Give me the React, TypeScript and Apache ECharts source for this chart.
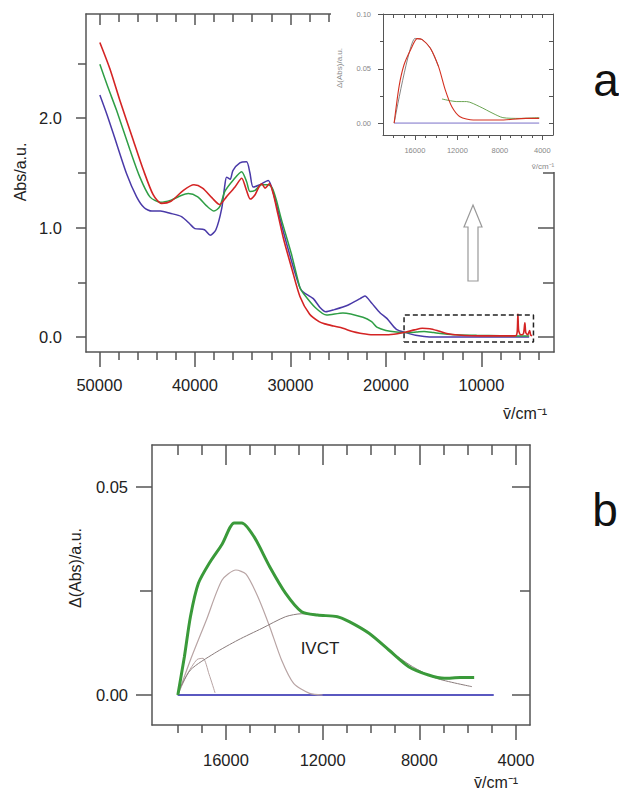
import React, { useEffect, useRef } from "react";
import * as echarts from "echarts";

// ---------- Panel a: absorbance spectra [wavenumber cm^-1, Abs/a.u.] ----------
const redA: [number, number][] = [
  [49950, 2.69], [48900, 2.45], [47850, 2.16], [46460, 1.8], [45410, 1.53], [44370, 1.3],
  [43500, 1.22], [42500, 1.24], [41200, 1.34], [40100, 1.39], [39200, 1.36], [38200, 1.27],
  [37400, 1.21], [36700, 1.28], [35800, 1.37], [35100, 1.45], [34600, 1.34], [34200, 1.26],
  [33700, 1.3], [33300, 1.37], [33000, 1.4], [32650, 1.36], [32200, 1.4], [31800, 1.31],
  [31300, 1.12], [30700, 0.89], [29900, 0.64], [29000, 0.37], [28000, 0.21], [27000, 0.14],
  [26400, 0.12], [25500, 0.1], [24500, 0.08], [23500, 0.05], [22700, 0.035], [21400, 0.02],
  [19900, 0.02], [18800, 0.03], [17900, 0.045], [17000, 0.065], [16200, 0.08], [15400, 0.075],
  [14500, 0.055], [13500, 0.03], [12400, 0.018], [11000, 0.012], [9000, 0.01], [7000, 0.01],
  [6400, 0.012], [6250, 0.05], [6180, 0.21], [6100, 0.06], [5900, 0.02], [5600, 0.03],
  [5450, 0.13], [5350, 0.04], [5150, 0.02], [4950, 0.06], [4850, 0.02], [4700, 0.01],
];
const greenA: [number, number][] = [
  [49950, 2.49], [49100, 2.28], [48200, 2.07], [46800, 1.71], [45760, 1.46], [44710, 1.28],
  [43600, 1.23], [42500, 1.25], [41500, 1.29], [40700, 1.31], [39700, 1.28], [38800, 1.2],
  [38000, 1.15], [37400, 1.19], [36860, 1.33], [36020, 1.43], [35110, 1.51], [34590, 1.42],
  [34240, 1.33], [33700, 1.34], [33020, 1.39], [32320, 1.39], [31900, 1.36], [31500, 1.26],
  [30930, 1.07], [29900, 0.76], [29000, 0.45], [28650, 0.4], [27400, 0.27], [26200, 0.2],
  [24500, 0.22], [22400, 0.18], [21500, 0.14], [20950, 0.09], [20000, 0.06], [18900, 0.045],
  [17900, 0.04], [16800, 0.045], [16000, 0.05], [15000, 0.04], [14000, 0.03], [12600, 0.02],
  [10500, 0.015], [8000, 0.012], [6500, 0.01], [5000, 0.01],
];
const blueA: [number, number][] = [
  [49950, 2.21], [49200, 2.03], [48550, 1.86], [47150, 1.49], [46100, 1.28], [45300, 1.18],
  [44500, 1.15], [43600, 1.15], [42600, 1.13], [41400, 1.1], [40500, 1.03], [40000, 0.99],
  [39000, 0.98], [38400, 0.93], [37800, 0.98], [37200, 1.17], [36860, 1.39], [36680, 1.46],
  [36300, 1.44], [36020, 1.52], [35290, 1.59], [34590, 1.6], [34240, 1.5], [33900, 1.37],
  [33190, 1.39], [32320, 1.43], [31970, 1.37], [31400, 1.19], [30700, 0.95], [29700, 0.64],
  [29000, 0.45], [28650, 0.41], [27600, 0.35], [26900, 0.27], [26300, 0.23], [25400, 0.25],
  [24000, 0.29], [22700, 0.35], [22200, 0.375], [21500, 0.31], [20600, 0.22], [19900, 0.17],
  [18900, 0.07], [17900, 0.04], [16900, 0.015], [16000, 0.005], [15000, 0], [12000, 0],
  [8000, 0], [5000, 0],
];
const boxA: [number, number][] = [
  [18100, -0.046], [4550, -0.046], [4550, 0.2], [18100, 0.2], [18100, -0.046],
];

// ---------- Inset: difference spectra [cm^-1, Δ(Abs)] ----------
const redInset: [number, number][] = [
  [17950, 0], [17490, 0.0336], [17020, 0.0537], [16400, 0.0676], [15780, 0.0778],
  [15310, 0.0769], [14540, 0.069], [13770, 0.052], [13140, 0.0306], [12520, 0.0151],
  [11750, 0.0059], [10510, 0.0028], [8030, 0.0028], [5540, 0.0043], [4300, 0.0043],
];
const grayInset: [number, number][] = [
  [17950, 0], [16000, 0.078], [15310, 0.0769], [14540, 0.069], [13770, 0.052],
];
const greenInset: [number, number][] = [
  [13450, 0.0222], [12060, 0.0198], [11130, 0.0198], [9890, 0.0151], [8650, 0.0089],
  [7720, 0.005], [6170, 0.0043], [4300, 0.005],
];
const blueInset: [number, number][] = [[17950, 0], [4300, 0]];

// ---------- Panel b: deconvolution [cm^-1, Δ(Abs)] ----------
const greenB: [number, number][] = [
  [17990, 0], [17720, 0.0092], [17470, 0.0188], [17140, 0.0268], [16650, 0.032],
  [16160, 0.0362], [15660, 0.0413], [15340, 0.0413], [14840, 0.038], [14190, 0.0308],
  [13530, 0.0244], [12870, 0.02], [12210, 0.0192], [11390, 0.0188], [10900, 0.0176],
  [10080, 0.0148], [9260, 0.0108], [8440, 0.0068], [7620, 0.0048], [6960, 0.004],
  [6310, 0.0042], [5730, 0.0042],
];
const comp1B: [number, number][] = [
  [17990, 0], [17600, 0.005], [17200, 0.0085], [16950, 0.0088], [16700, 0.005], [16450, 0.0005],
];
const comp2B: [number, number][] = [
  [17990, 0], [17470, 0.0084], [16810, 0.018], [16160, 0.0276], [15590, 0.03], [15170, 0.029],
  [14680, 0.0236], [14190, 0.0164], [13700, 0.0084], [13200, 0.0028], [12540, 0.0004], [12000, 0],
];
const ivctB: [number, number][] = [
  [17990, 0.0005], [17470, 0.006], [16480, 0.01], [15500, 0.0132], [14510, 0.016],
  [13530, 0.0188], [12870, 0.0195], [12050, 0.0192], [11230, 0.0184], [10250, 0.0156],
  [9260, 0.0108], [8280, 0.0068], [7290, 0.004], [5820, 0.002],
];
const baseB: [number, number][] = [[18000, 0], [4920, 0]];

// ---------- Tick values ----------
const aXMajor = [50000, 40000, 30000, 20000, 10000];
const aXMinor = [48000, 46000, 44000, 42000, 38000, 36000, 34000, 32000, 28000, 26000, 24000,
  22000, 18000, 16000, 14000, 12000, 8000, 6000, 4000];
const aYMajor = [0, 1, 2];
const aYMinor = [0.5, 1.5, 2.5];
const inXMajor = [16000, 12000, 8000, 4000];
const inXMinor = [18000, 17000, 15000, 14000, 13000, 11000, 10000, 9000, 7000, 6000, 5000];
const inYMajor = [0, 0.05, 0.1];
const inYMinor = [0.025, 0.075];
const bXMajor = [16000, 12000, 8000, 4000];
const bXMinor = [18000, 17000, 15000, 14000, 13000, 11000, 10000, 9000, 7000, 6000, 5000];
const bYMajor = [0, 0.05];
const bYMinor = [0.025];

const FONT = "'Liberation Sans', Arial, Helvetica, sans-serif";
const AXIS = "#555";

type AxOpts = {
  line?: boolean; labels?: number[]; fmt?: (v: number) => string; margin?: number;
  fontSize?: number; color?: string; z?: number; lw?: number;
};
function axis(grid: number, position: string, min: number, max: number, inverse: boolean,
  ticks: number[], len: number, inside: boolean, o: AxOpts = {}) {
  const lw = o.lw ?? 1.5;
  return {
    type: "value", gridIndex: grid, position, min, max, inverse, z: o.z ?? 0,
    axisLine: { show: !!o.line, onZero: false, lineStyle: { color: AXIS, width: lw } },
    axisTick: { show: true, inside, length: len, customValues: ticks, lineStyle: { color: AXIS, width: lw } },
    axisLabel: o.labels
      ? { show: true, customValues: o.labels, formatter: o.fmt, margin: o.margin ?? 8,
          fontSize: o.fontSize ?? 16, color: o.color ?? "#222", fontFamily: FONT }
      : { show: false },
    splitLine: { show: false },
    minorTick: { show: false },
    minorSplitLine: { show: false },
  };
}

function line(xi: number, yi: number, data: [number, number][], color: string, width: number,
  z = 2, extra: any = {}) {
  return {
    type: "line", xAxisIndex: xi, yAxisIndex: yi, data, symbol: "none", showSymbol: false,
    smooth: 0.25, z, lineStyle: { color, width, ...(extra.lineStyle || {}) }, silent: true,
    ...(extra.smooth !== undefined ? { smooth: extra.smooth } : {}),
  };
}

export default function App() {
  const ref = useRef<HTMLDivElement>(null);
  useEffect(() => {
    if (!ref.current) return;
    const chart = echarts.init(ref.current, undefined, { renderer: "svg" });
    const AX = [51400, 2400], AY = [-0.137, 2.95];
    const IX = [19000, 3000], IY = [-0.011, 0.1005];
    const BX = [19060, 3420], BY = [-0.0072, 0.06];
    const f0 = (v: number) => String(v);
    const f1 = (v: number) => v.toFixed(1);
    const f2 = (v: number) => v.toFixed(2);
    const IZ = 11;
    const option: any = {
      animation: false,
      backgroundColor: "#fff",
      grid: [
        { left: 86, top: 14, width: 468, height: 338, show: false },
        { left: 383, top: 14, width: 170, height: 121, show: false, z: IZ },
        { left: 152, top: 445, width: 378, height: 280, show: false },
      ],
      xAxis: [
        axis(0, "bottom", AX[1], AX[0], true, aXMajor, 15, false, { line: true, labels: aXMajor, fmt: f0, margin: 24, fontSize: 16.5 }),
        axis(0, "bottom", AX[1], AX[0], true, aXMinor, 8, false),
        axis(0, "top", AX[1], AX[0], true, aXMajor, 11, true, { line: true }),
        axis(0, "top", AX[1], AX[0], true, aXMinor, 8, true),
        axis(1, "bottom", IX[1], IX[0], true, inXMajor, 5, false, { line: true, labels: inXMajor, fmt: f0, margin: 11, fontSize: 7.5, color: "#888", z: IZ, lw: 1 }),
        axis(1, "bottom", IX[1], IX[0], true, inXMinor, 3, false, { z: IZ, lw: 1 }),
        axis(1, "top", IX[1], IX[0], true, [...inXMajor, ...inXMinor], 4, true, { line: true, z: IZ, lw: 1 }),
        axis(2, "bottom", BX[1], BX[0], true, bXMajor, 15, false, { line: true, labels: bXMajor, fmt: f0, margin: 26, fontSize: 16.5 }),
        axis(2, "bottom", BX[1], BX[0], true, bXMinor, 8, false),
        axis(2, "top", BX[1], BX[0], true, bXMajor, 20, true, { line: true }),
        axis(2, "top", BX[1], BX[0], true, bXMinor, 10, true),
      ],
      yAxis: [
        axis(0, "left", AY[0], AY[1], false, aYMajor, 10, false, { line: true, labels: aYMajor, fmt: f1, margin: 24, fontSize: 16.5 }),
        axis(0, "left", AY[0], AY[1], false, aYMinor, 8, false),
        axis(0, "right", AY[0], AY[1], false, aYMajor, 16, true, { line: true }),
        axis(0, "right", AY[0], AY[1], false, aYMinor, 11, true),
        axis(1, "left", IY[0], IY[1], false, inYMajor, 5, false, { line: true, labels: inYMajor, fmt: f2, margin: 12, fontSize: 7.5, color: "#888", z: IZ, lw: 1 }),
        axis(1, "left", IY[0], IY[1], false, inYMinor, 3, false, { z: IZ, lw: 1 }),
        axis(1, "right", IY[0], IY[1], false, [...inYMajor, ...inYMinor], 4, true, { line: true, z: IZ, lw: 1 }),
        axis(2, "left", BY[0], BY[1], false, bYMajor, 16, false, { line: true, labels: bYMajor, fmt: f2, margin: 24, fontSize: 16.5 }),
        axis(2, "left", BY[0], BY[1], false, bYMinor, 12, false),
        axis(2, "right", BY[0], BY[1], false, bYMajor, 18, true, { line: true }),
        axis(2, "right", BY[0], BY[1], false, bYMinor, 10, true),
      ],
      series: [
        line(0, 0, blueA, "#4a3aa8", 1.5),
        line(0, 0, greenA, "#2f9e45", 1.5),
        line(0, 0, redA, "#d42424", 1.6),
        { type: "line", xAxisIndex: 0, yAxisIndex: 0, data: boxA, symbol: "none", z: 3, silent: true,
          lineStyle: { color: "#222", width: 1.5, type: [5, 3] } },
        line(4, 4, blueInset, "#7a70c8", 1, 13, { smooth: false }),
        line(4, 4, greenInset, "#5a9a40", 0.9, 13),
        line(4, 4, grayInset, "#777", 0.9, 13, { smooth: 0.2 }),
        line(4, 4, redInset, "#d43020", 1.1, 14),
        line(7, 7, baseB, "#5a58c0", 2, 2, { smooth: false }),
        line(7, 7, comp1B, "#b8a4a4", 1, 3),
        line(7, 7, comp2B, "#b8a4a4", 1.2, 3),
        line(7, 7, ivctB, "#8a7c7c", 1, 3),
        line(7, 7, greenB, "#3a9a3a", 3, 4),
      ],
      graphic: [
        { type: "rect", z: 10, shape: { x: 331, y: 0, width: 236, height: 172 }, style: { fill: "#fff" } },
        { type: "polygon", z: 5,
          shape: { points: [[473, 205], [482, 227], [478, 227], [478, 281], [468, 281], [468, 227], [464, 227]] },
          style: { fill: "#fff", stroke: "#999", lineWidth: 1.2 } },
        { type: "text", z: 20, x: 20, y: 172, rotation: Math.PI / 2,
          style: { text: "Abs/a.u.", fontSize: 16, fontFamily: FONT, fill: "#222", align: "center", verticalAlign: "middle" } },
        { type: "text", z: 20, x: 75, y: 568, rotation: Math.PI / 2,
          style: { text: "Δ(Abs)/a.u.", fontSize: 16, fontFamily: FONT, fill: "#222", align: "center", verticalAlign: "middle" } },
        { type: "text", z: 20, x: 339, y: 68, rotation: Math.PI / 2,
          style: { text: "Δ(Abs)/a.u.", fontSize: 8, fontFamily: FONT, fill: "#888", align: "center", verticalAlign: "middle" } },
        { type: "text", z: 20, x: 525, y: 413,
          style: { text: "v̄/cm⁻¹", fontSize: 16, fontFamily: FONT, fill: "#222", align: "center", verticalAlign: "middle" } },
        { type: "text", z: 20, x: 496, y: 782,
          style: { text: "v̄/cm⁻¹", fontSize: 16, fontFamily: FONT, fill: "#222", align: "center", verticalAlign: "middle" } },
        { type: "text", z: 20, x: 543, y: 166,
          style: { text: "v̄/cm⁻¹", fontSize: 8, fontFamily: FONT, fill: "#888", align: "center", verticalAlign: "middle" } },
        { type: "text", z: 20, x: 320, y: 648,
          style: { text: "IVCT", fontSize: 17, fontFamily: FONT, fill: "#222", align: "center", verticalAlign: "middle" } },
        { type: "text", z: 20, x: 606, y: 80,
          style: { text: "a", fontSize: 46, fontFamily: FONT, fill: "#111", align: "center", verticalAlign: "middle" } },
        { type: "text", z: 20, x: 605, y: 510,
          style: { text: "b", fontSize: 46, fontFamily: FONT, fill: "#111", align: "center", verticalAlign: "middle" } },
      ],
    };
    chart.setOption(option);
    return () => chart.dispose();
  }, []);
  return (
    <div
      ref={ref}
      style={{ position: "fixed", left: 0, top: 0, width: 619, height: 794, background: "#fff" }}
    />
  );
}
